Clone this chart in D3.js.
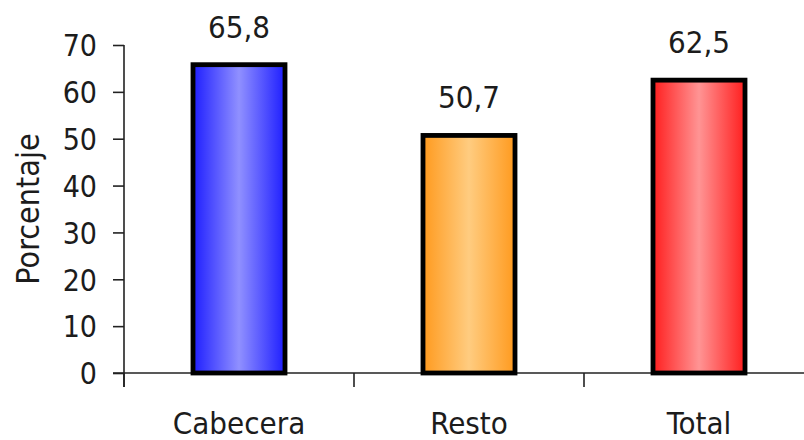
<!DOCTYPE html>
<html>
<head>
<meta charset="utf-8">
<script src="https://cdn.jsdelivr.net/npm/d3@7/dist/d3.min.js"></script>
<style>
  html, body { margin: 0; padding: 0; background: #fff; }
  svg { display: block; }
  text { font-family: "DejaVu Sans Condensed", "DejaVu Sans", sans-serif; fill: #1c1c1c; }
</style>
</head>
<body>
<svg id="chart" width="804" height="440"></svg>
<script>
// Porcentaje por zona
const categories = ["Cabecera", "Resto", "Total"];
const values = [65.8, 50.7, 62.5];
const valueLabels = ["65,8", "50,7", "62,5"];
const yTicks = [0, 10, 20, 30, 40, 50, 60, 70];
const yTitle = "Porcentaje";
// edge / centre colours of each bar's shading
const barEdge = ["#1e1eff", "#ff9a1e", "#ff1e1e"];
const barCentre = ["#9090ff", "#ffcc80", "#ff9494"];

const svg = d3.select("#chart");
const plot = { left: 124, right: 814, top: 45, bottom: 373 };

const x = d3.scaleBand()
  .domain(categories)
  .range([plot.left, plot.right])
  .paddingInner(0.6)
  .paddingOuter(0.3);

const y = d3.scaleLinear()
  .domain([0, 70])
  .range([plot.bottom, plot.top]);

// horizontal shading for each bar
const defs = svg.append("defs");
categories.forEach((c, i) => {
  const g = defs.append("linearGradient")
    .attr("id", "grad" + i)
    .attr("x1", "0%").attr("x2", "100%")
    .attr("y1", "0%").attr("y2", "0%");
  g.append("stop").attr("offset", "0%").attr("stop-color", barEdge[i]);
  g.append("stop").attr("offset", "50%").attr("stop-color", barCentre[i]);
  g.append("stop").attr("offset", "100%").attr("stop-color", barEdge[i]);
});

// y axis
const yAxis = svg.append("g")
  .attr("transform", `translate(${plot.left},0)`)
  .call(d3.axisLeft(y).tickValues(yTicks).tickSize(11).tickPadding(16).tickFormat(d3.format("d")));
yAxis.select(".domain").attr("stroke", "#222").attr("stroke-width", 1.6)
  .attr("d", `M0,${plot.top}V${plot.bottom + 14}`);
yAxis.selectAll(".tick line").attr("stroke", "#222").attr("stroke-width", 1.6);
yAxis.selectAll(".tick text")
  .style("font-family", '"DejaVu Sans Condensed", "DejaVu Sans", sans-serif')
  .style("font-size", "30px").attr("fill", "#1c1c1c").attr("dy", "0.36em");

// x axis line and category boundary ticks
const half = (x.step() - x.bandwidth()) / 2;
const boundaries = categories.map(c => x(c) - half);
svg.append("line")
  .attr("x1", plot.left - 11).attr("x2", 804)
  .attr("y1", y(0)).attr("y2", y(0))
  .attr("stroke", "#222").attr("stroke-width", 1.6);
svg.selectAll(".xtick")
  .data(boundaries)
  .join("line")
  .attr("class", "xtick")
  .attr("x1", d => d).attr("x2", d => d)
  .attr("y1", y(0)).attr("y2", y(0) + 14)
  .attr("stroke", "#222").attr("stroke-width", 1.6);

// category labels
svg.selectAll(".cat")
  .data(categories)
  .join("text")
  .attr("class", "cat")
  .attr("x", d => x(d) + x.bandwidth() / 2)
  .attr("y", 434)
  .attr("text-anchor", "middle")
  .style("font-size", "31px")
  .text(d => d);

// bars
svg.selectAll(".bar")
  .data(values)
  .join("rect")
  .attr("class", "bar")
  .attr("x", (d, i) => x(categories[i]))
  .attr("width", x.bandwidth())
  .attr("y", d => y(d))
  .attr("height", d => y(0) - y(d))
  .attr("fill", (d, i) => `url(#grad${i})`)
  .attr("stroke", "#000")
  .attr("stroke-width", 4.8);

// value labels
svg.selectAll(".val")
  .data(values)
  .join("text")
  .attr("class", "val")
  .attr("x", (d, i) => x(categories[i]) + x.bandwidth() / 2)
  .attr("y", d => y(d) - 27)
  .attr("text-anchor", "middle")
  .style("font-size", "31px")
  .text((d, i) => valueLabels[i]);

// y axis title
svg.append("text")
  .attr("transform", `translate(39,${(plot.top + plot.bottom) / 2}) rotate(-90)`)
  .attr("text-anchor", "middle")
  .style("font-size", "32px")
  .text(yTitle);
</script>
</body>
</html>
